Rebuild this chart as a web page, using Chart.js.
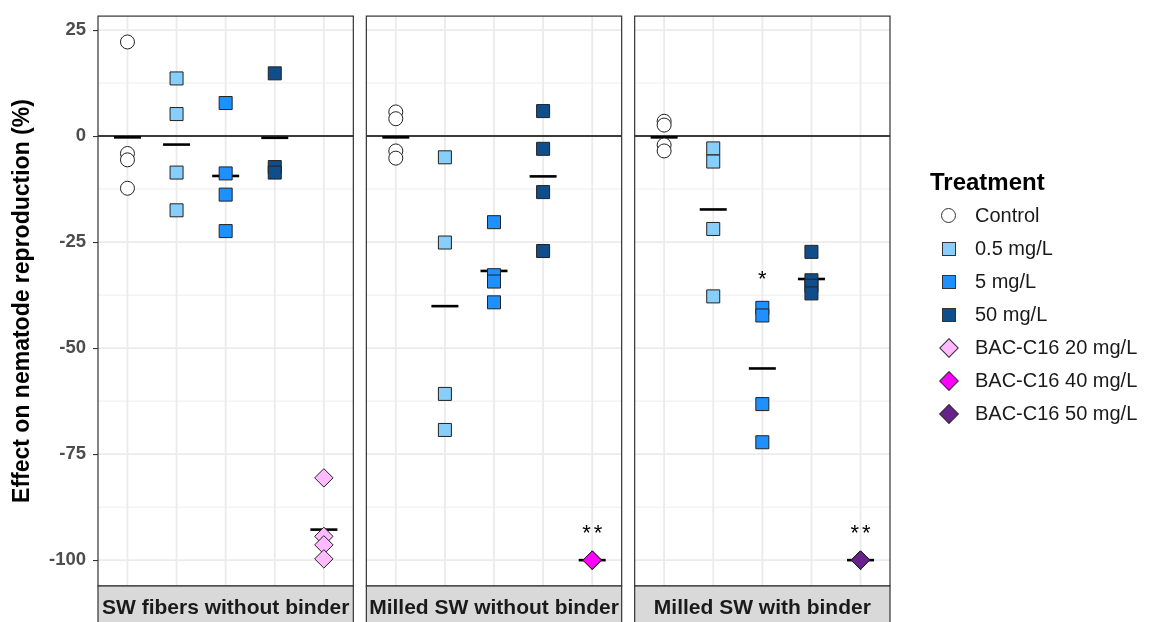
<!DOCTYPE html>
<html>
<head>
<meta charset="utf-8">
<script src="https://cdn.jsdelivr.net/npm/chart.js@4.4.1/dist/chart.umd.min.js"></script>
<style>
  html, body { margin: 0; padding: 0; background: #fff; }
  #wrap { position: relative; width: 1149px; height: 622px; overflow: hidden;
          font-family: "Liberation Sans", Arial, sans-serif; }
  #chart { position: absolute; left: 0; top: 0; }
  #legend { position: absolute; left: 930px; top: 165px; color: #1a1a1a; }
  #legend .title { font-weight: bold; font-size: 24px; height: 34px; line-height: 34px; color: #000; }
  #legend .item { position: relative; height: 33px; line-height: 33px; font-size: 20px; padding-left: 45px; }
  #legend .sym { position: absolute; box-sizing: border-box; border: 1px solid #333; }
</style>
</head>
<body>
<div id="wrap">
  <canvas id="chart" width="1149" height="622"></canvas>
  <div id="legend"></div>
</div>
<script>
// facets and treatments
const panels = ['SW fibers without binder', 'Milled SW without binder', 'Milled SW with binder'];
const treatments = ['Control', '0.5 mg/L', '5 mg/L', '50 mg/L', 'BAC-C16 20 mg/L', 'BAC-C16 40 mg/L', 'BAC-C16 50 mg/L'];
const fills = ['#FFFFFF', '#87CEFA', '#1E90FF', '#104E8B', '#FFBBFF', '#FF00FF', '#68228B'];
const shapes = ['circle', 'rect', 'rect', 'rect', 'rectRot', 'rectRot', 'rectRot'];
// column of each treatment inside a panel (1..5)
const slots = [1, 2, 3, 4, 5, 5, 5];

// replicates per panel (%)
const control = [[22.2, -4.1, -5.6, -12.3], [5.7, 4.1, -3.5, -5.2], [3.5, 2.6, -2.1, -3.5]];
const dose05  = [[13.6, 5.2, -8.6, -17.5], [-5.0, -25.1, -60.8, -69.3], [-2.9, -6.0, -21.9, -37.8]];
const dose5   = [[7.8, -8.8, -13.8, -22.4], [-20.3, -32.8, -34.3, -39.2], [-40.5, -42.3, -63.2, -72.2]];
const dose50  = [[14.8, -7.3, -8.6], [5.9, -3.0, -13.2, -27.1], [-27.3, -34.0, -35.3, -37.1]];
const bac20   = [[-80.6, -94.4, -96.4, -99.7], [], []];
const bac40   = [[], [-100, -100, -100, -100], []];
const bac50   = [[], [], [-100, -100, -100, -100]];

// group means (black bars), per panel, columns 1..5
const means = [
  [-0.3, -2.0, -9.4, -0.4, -92.8],
  [-0.3, -40.1, -31.8, -9.5, -100],
  [-0.3, -17.3, -54.8, -33.7, -100]
];

// significance marks
const starText  = ['**', '**', '*'];
const starPanel = [1, 2, 2];
const starSlot  = [5, 5, 3];
const starY     = [-93.2, -93.2, -33.3];

const yTicks = [25, 0, -25, -50, -75, -100];

const STEP = 5.465;   // x units from one panel to the next (panel width + gap)
const seriesValues = [control, dose05, dose5, dose50, bac20, bac40, bac50];

function xOf(panel, slot) { return panel * STEP + slot; }

const datasets = treatments.map((name, t) => {
  const pts = [];
  seriesValues[t].forEach((vals, p) => vals.forEach(v => pts.push({ x: xOf(p, slots[t]), y: v })));
  return {
    label: name,
    data: pts,
    pointStyle: shapes[t],
    pointRadius: shapes[t] === 'circle' ? 7 : 9.2,
    pointBackgroundColor: fills[t],
    pointBorderColor: '#222',
    pointBorderWidth: 1
  };
});

const meanPts = [];
means.forEach((row, p) => row.forEach((v, i) => meanPts.push({ x: xOf(p, i + 1), y: v })));
datasets.push({
  label: 'mean',
  data: meanPts,
  pointStyle: 'line',
  pointRadius: 13.5,
  pointBorderColor: '#000',
  pointBorderWidth: 2.6
});

const facetPlugin = {
  id: 'facets',
  beforeDatasetsDraw(chart) {
    const { ctx, chartArea, scales: { x, y } } = chart;
    const top = chartArea.top, bottom = chartArea.bottom;
    ctx.save();
    panels.forEach((name, p) => {
      const l = x.getPixelForValue(p * STEP + 0.4);
      const r = x.getPixelForValue(p * STEP + 5.6);
      ctx.fillStyle = '#fff';
      ctx.fillRect(l, top, r - l, bottom - top);
      // minor horizontal grid
      ctx.strokeStyle = '#EBEBEB';
      ctx.lineWidth = 0.9;
      for (let i = 0; i < yTicks.length - 1; i++) {
        const py = y.getPixelForValue((yTicks[i] + yTicks[i + 1]) / 2);
        ctx.beginPath(); ctx.moveTo(l, py); ctx.lineTo(r, py); ctx.stroke();
      }
      // major grid
      ctx.lineWidth = 1.8;
      yTicks.forEach(v => {
        const py = y.getPixelForValue(v);
        ctx.beginPath(); ctx.moveTo(l, py); ctx.lineTo(r, py); ctx.stroke();
      });
      for (let s = 1; s <= 5; s++) {
        const px = x.getPixelForValue(xOf(p, s));
        ctx.beginPath(); ctx.moveTo(px, top); ctx.lineTo(px, bottom); ctx.stroke();
      }
      // zero reference line
      ctx.strokeStyle = '#000';
      ctx.lineWidth = 1.5;
      const z = y.getPixelForValue(0);
      ctx.beginPath(); ctx.moveTo(l, z); ctx.lineTo(r, z); ctx.stroke();
    });
    ctx.restore();
  },
  afterDatasetsDraw(chart) {
    const { ctx, chartArea, scales: { x, y } } = chart;
    const top = chartArea.top, bottom = chartArea.bottom;
    ctx.save();
    panels.forEach((name, p) => {
      const l = x.getPixelForValue(p * STEP + 0.4);
      const r = x.getPixelForValue(p * STEP + 5.6);
      ctx.strokeStyle = '#333';
      ctx.lineWidth = 1.2;
      ctx.strokeRect(l, top, r - l, bottom - top);
      // strip under the panel
      ctx.fillStyle = '#D9D9D9';
      ctx.fillRect(l, bottom, r - l, 44);
      ctx.strokeRect(l, bottom, r - l, 44);
      ctx.fillStyle = '#1a1a1a';
      ctx.font = 'bold 21px "Liberation Sans", Arial, sans-serif';
      ctx.textAlign = 'center';
      ctx.textBaseline = 'middle';
      ctx.fillText(name, (l + r) / 2, bottom + 22);
    });
    ctx.fillStyle = '#000';
    ctx.font = '22px "Liberation Sans", Arial, sans-serif';
    ctx.letterSpacing = '3px';
    ctx.textAlign = 'center';
    ctx.textBaseline = 'middle';
    starText.forEach((txt, i) => {
      ctx.fillText(txt, x.getPixelForValue(xOf(starPanel[i], starSlot[i])) + 1.5, y.getPixelForValue(starY[i]) + 3);
    });
    ctx.restore();
  }
};

new Chart(document.getElementById('chart').getContext('2d'), {
  type: 'scatter',
  data: { datasets: datasets },
  plugins: [facetPlugin],
  options: {
    responsive: false,
    animation: false,
    events: [],
    layout: { padding: { left: 0, top: 12.5, right: 259, bottom: 36 } },
    plugins: { legend: { display: false }, tooltip: { enabled: false } },
    scales: {
      x: { type: 'linear', display: false, min: 0.4, max: 2 * STEP + 5.6 },
      y: {
        type: 'linear',
        min: -106.1,
        max: 28.3,
        afterBuildTicks: (scale) => { scale.ticks = yTicks.map(v => ({ value: v })); },
        afterFit: (scale) => { scale.width = 98; scale.paddingTop = 0; scale.paddingBottom = 0; },
        grid: { drawOnChartArea: false, drawTicks: true, tickLength: 5, color: '#333', lineWidth: 1.1 },
        border: { display: false },
        ticks: { color: '#4D4D4D', font: { family: '"Liberation Sans", Arial, sans-serif', size: 18.5, weight: 'bold' }, padding: 7 },
        title: {
          display: true,
          text: 'Effect on nematode reproduction (%)',
          color: '#000',
          font: { family: '"Liberation Sans", Arial, sans-serif', size: 23, weight: 'bold' },
          padding: { top: 9, bottom: 0 }
        }
      }
    }
  }
});

// legend
const legend = document.getElementById('legend');
legend.innerHTML = '<div class="title">Treatment</div>';
treatments.forEach((name, t) => {
  const item = document.createElement('div');
  item.className = 'item';
  const sym = document.createElement('span');
  sym.className = 'sym';
  sym.style.background = fills[t];
  if (shapes[t] === 'circle') {
    Object.assign(sym.style, { width: '15px', height: '15px', left: '11px', top: '9px', borderRadius: '50%' });
  } else if (shapes[t] === 'rect') {
    Object.assign(sym.style, { width: '14px', height: '14px', left: '11.5px', top: '9.5px' });
  } else {
    Object.assign(sym.style, { width: '14px', height: '14px', left: '11.5px', top: '9.5px', transform: 'rotate(45deg)' });
  }
  item.appendChild(sym);
  item.appendChild(document.createTextNode(name));
  legend.appendChild(item);
});
</script>
</body>
</html>
